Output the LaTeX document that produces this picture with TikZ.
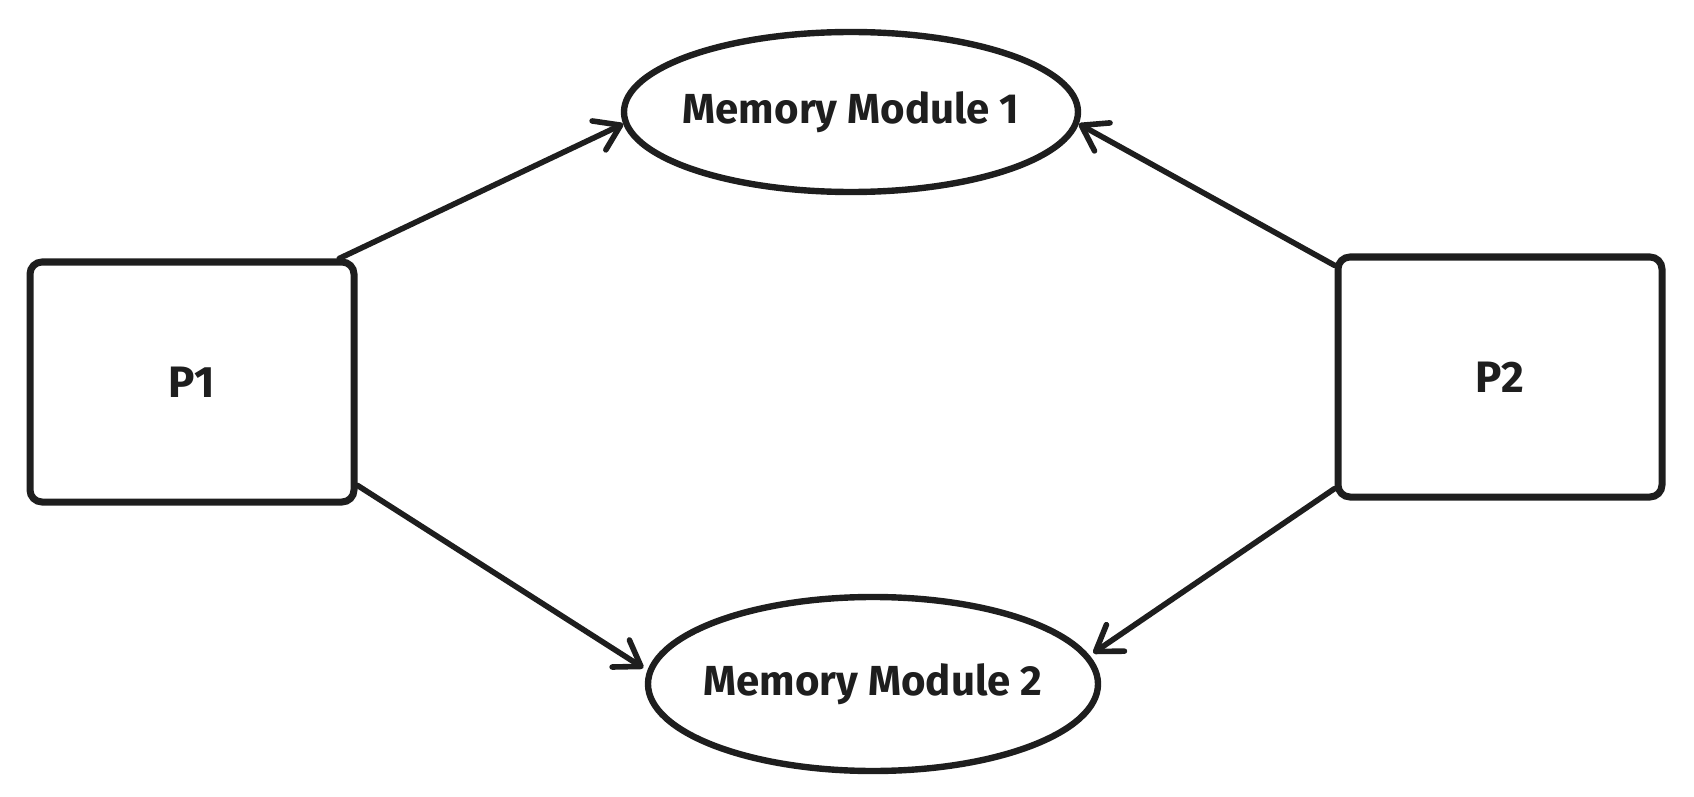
\documentclass[tikz,border=0pt]{standalone}
\usepackage{fontspec}
\setmainfont{Fira Sans}
\usetikzlibrary{arrows.meta,shapes.geometric}
\definecolor{ink}{RGB}{30,30,30}
\tikzset{
  proc/.style={draw=ink, line width=3.5pt, rounded corners=6pt, inner sep=0pt,
    minimum width=162pt, minimum height=120pt, font=\bfseries\fontsize{22}{26}\selectfont, text=ink},
  mem/.style={ellipse, draw=ink, line width=3.2pt, inner sep=-12pt,
    font=\bfseries\fontsize{21}{25}\selectfont, text=ink},
  link/.style={draw=ink, line width=2.8pt, line cap=round,
    -{Straight Barb[length=12pt,width=16pt,round]}}
}
\begin{document}
\begin{tikzpicture}[x=0.5pt,y=0.5pt,yscale=-1,xscale=1]
\useasboundingbox (0,0) rectangle (1694,797);

%Shape: Rectangle
\node [proc] (p1) at (192,382) {P1};
%Shape: Rectangle
\node [proc] (p2) at (1500,377) {P2};
%Shape: Ellipse
\node [mem, minimum width=227pt, minimum height=80pt] (mm1) at (851,112) {Memory Module 1};
%Shape: Ellipse
\node [mem, minimum width=225pt, minimum height=87pt, outer sep=4pt] (mm2) at (873,684) {Memory Module 2};

%Straight Lines
\draw [link] (p1.40) -- (mm1.183) ;
%Straight Lines
\draw [link] (p1.-32) -- (mm2.176) ;
%Straight Lines
\draw [link] (p2.146) -- (mm1.357) ;
%Straight Lines
\draw [link] (p2.214) -- (mm2.8) ;

\end{tikzpicture}
\end{document}
